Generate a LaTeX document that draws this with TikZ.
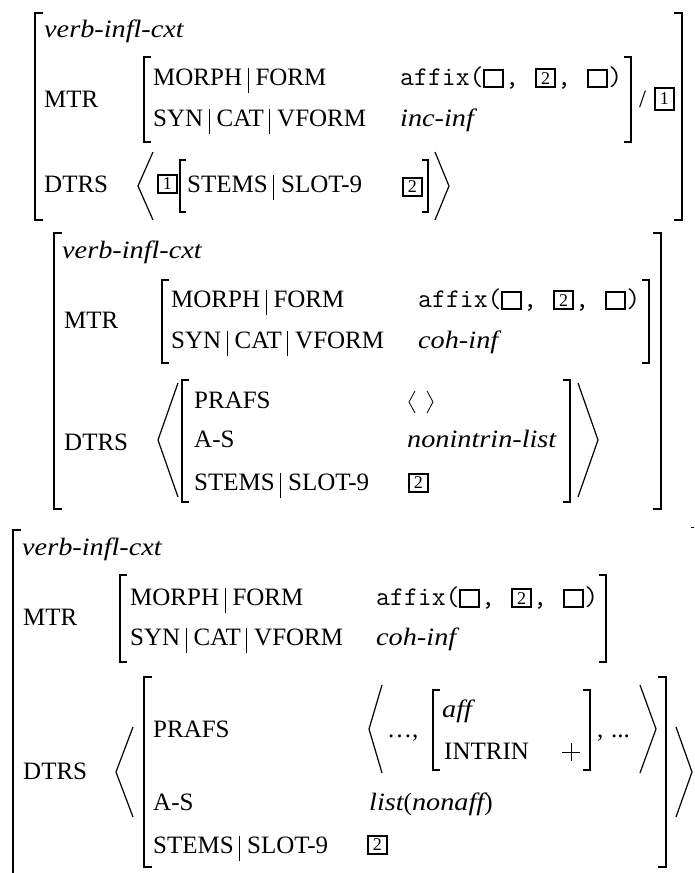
\documentclass[tikz,border=0pt]{standalone}
\usepackage{fontspec}
\usepackage{graphicx}
\setmainfont{Liberation Serif}[ItalicFont={Liberation Serif Italic}]
\usetikzlibrary{calc}

\newcommand{\pb}{\hspace{5.5pt}\rule[-8pt]{0.9pt}{25pt}\hspace{7pt}}
\newcommand{\iv}[1]{\scalebox{1.13}[1]{\itshape #1}}

\tikzset{
 txt/.style={anchor=base west, inner sep=0pt, font=\fontsize{25}{30}\selectfont},
 ttx/.style={anchor=base west, inner sep=0pt, font=\fontsize{27}{30}\selectfont\ttfamily},
 obr/.style={line width=1.6pt},
 ibr/.style={line width=1.2pt},
 ang/.style={line width=1.2pt},
 ebox/.style={draw, line width=2.1pt, minimum width=19pt, minimum height=17pt, inner sep=0pt, anchor=north west},
 tagb/.style={draw, line width=1.6pt, minimum width=19pt, minimum height=18pt, inner sep=0pt,
   font=\fontsize{18}{18}\selectfont, anchor=north west},
}

% affix( [] , [2] , [] ) chained after the text
\newcommand{\affixrow}[3]{%
 \node[ttx] (#1af) at (#2,#3) {affix(};
 \node[ebox, anchor=south west] (#1b1) at ([xshift=-1pt,yshift=-3pt]#1af.base east) {};
 \node[ttx] (#1c1) at ([yshift=3pt,xshift=1pt]#1b1.south east) {,};
 \node[tagb, anchor=south west] (#1b2) at ([xshift=16pt,yshift=-3pt]#1c1.base east) {2};
 \node[ttx] (#1c2) at ([yshift=3pt,xshift=1pt]#1b2.south east) {,};
 \node[ebox, anchor=south west] (#1b3) at ([xshift=16pt,yshift=-3pt]#1c2.base east) {};
 \node[ttx] (#1cp) at ([yshift=3pt]#1b3.south east) {)};
}

\begin{document}
\begin{tikzpicture}[x=1pt,y=-1pt]
\useasboundingbox (0,0) rectangle (694,873);

% ================= AVM 1 =================
\draw[obr] (43,13) -- (35,13) -- (35,220) -- (43,220);
\draw[obr] (674,13) -- (682,13) -- (682,220) -- (674,220);
\node[txt] (a1type) at (44,37) {\iv{verb-infl-cxt}};
\node[txt] (a1mtr) at (44,107) {MTR};
\draw[ibr] (151,57) -- (144,57) -- (144,142) -- (151,142);
\draw[ibr] (624,57) -- (631,57) -- (631,142) -- (624,142);
\node[txt] (a1mf) at (153,85) {MORPH\pb FORM};
\affixrow{a1}{400}{85}
\node[txt] (a1scv) at (153,126) {SYN\pb CAT\pb VFORM};
\node[txt] (a1vf) at (400,126) {\iv{inc-inf}};
\node[txt] (a1sl) at (639,107) {/};
\node[tagb, minimum height=22pt] (a1tag) at (654,87) {1};
\node[txt] (a1dtrs) at (44,192) {DTRS};
\draw[ang] (153,152) -- (138,186) -- (153,220);
\node[tagb] (a1t1) at (157,174) {1};
\draw[ibr] (186,160) -- (180,160) -- (180,212) -- (186,212);
\node[txt] (a1st) at (187,192) {STEMS\pb SLOT-9};
\node[tagb] (a1t2) at (402,177) {2};
\draw[ibr] (422,160) -- (428,160) -- (428,212) -- (422,212);
\draw[ang] (435,152) -- (449,186) -- (435,220);

% ================= AVM 2 =================
\draw[obr] (62,233) -- (54,233) -- (54,509) -- (62,509);
\draw[obr] (653,233) -- (661,233) -- (661,509) -- (653,509);
\node[txt] (a2type) at (62,258) {\iv{verb-infl-cxt}};
\node[txt] (a2mtr) at (64,328) {MTR};
\draw[ibr] (169,280) -- (162,280) -- (162,363) -- (169,363);
\draw[ibr] (642,280) -- (649,280) -- (649,363) -- (642,363);
\node[txt] (a2mf) at (171,307) {MORPH\pb FORM};
\affixrow{a2}{418}{307}
\node[txt] (a2scv) at (171,348) {SYN\pb CAT\pb VFORM};
\node[txt] (a2vf) at (418,348) {\iv{coh-inf}};
\node[txt] (a2dtrs) at (64,450) {DTRS};
\draw[ang] (178,383) -- (158,440) -- (178,497);
\draw[ibr] (189,380) -- (182,380) -- (182,502) -- (189,502);
\draw[ibr] (563,380) -- (570,380) -- (570,502) -- (563,502);
\node[txt] (a2pr) at (194,408) {PRAFS};
\draw[ang, line width=0.8pt] (415,391) -- (409,402) -- (415,413);
\draw[ang, line width=0.8pt] (427,391) -- (433,402) -- (427,413);
\node[txt] (a2as) at (194,447) {A-S};
\node[txt] (a2nl) at (407,447) {\iv{nonintrin-list}};
\node[txt] (a2st) at (194,490) {STEMS\pb SLOT-9};
\node[tagb] (a2t2) at (408,473) {2};
\draw[ang] (578,383) -- (598,440) -- (578,497);

% ================= AVM 3 =================
\draw[obr] (21,530) -- (13,530) -- (13,873);
\draw[line width=1pt] (691,527) -- (694,527);
\node[txt] (a3type) at (22,555) {\iv{verb-infl-cxt}};
\node[txt] (a3mtr) at (23,625) {MTR};
\draw[ibr] (127,575) -- (120,575) -- (120,662) -- (127,662);
\draw[ibr] (599,575) -- (606,575) -- (606,662) -- (599,662);
\node[txt] (a3mf) at (130,605) {MORPH\pb FORM};
\affixrow{a3}{376}{605}
\node[txt] (a3scv) at (130,645) {SYN\pb CAT\pb VFORM};
\node[txt] (a3vf) at (376,645) {\iv{coh-inf}};
\node[txt] (a3dtrs) at (23,779) {DTRS};
\draw[ang] (133,727) -- (116,772) -- (133,817);
\draw[ibr] (152,677) -- (144,677) -- (144,867) -- (152,867);
\draw[ibr] (658,677) -- (666,677) -- (666,867) -- (658,867);
\node[txt] (a3pr) at (153,737) {PRAFS};
\draw[ang] (382,685) -- (369,729) -- (382,773);
\node[txt] (a3d1) at (387,737) {\ldots,};
\draw[ibr] (440,690) -- (433,690) -- (433,770) -- (440,770);
\node[txt] (a3aff) at (442,717) {\iv{aff}};
\node[txt] (a3in) at (444,759) {INTRIN};
\draw[line width=0.9pt] (562,752) -- (580,752) (571,743) -- (571,761);
\draw[ibr] (583,690) -- (590,690) -- (590,770) -- (583,770);
\node[txt] (a3c3) at (597,737) {,};
\node[txt] (a3d2) at (611,737) {...};
\draw[ang] (640,685) -- (656,729) -- (640,773);
\node[txt] (a3as) at (153,810) {A-S};
\node[txt] (a3ls) at (369,810) {\iv{list}(\iv{nonaff})};
\node[txt] (a3st) at (153,853) {STEMS\pb SLOT-9};
\node[tagb] (a3t2) at (367,835) {2};
\draw[ang] (676,727) -- (692,772) -- (676,817);
\end{tikzpicture}
\end{document}
